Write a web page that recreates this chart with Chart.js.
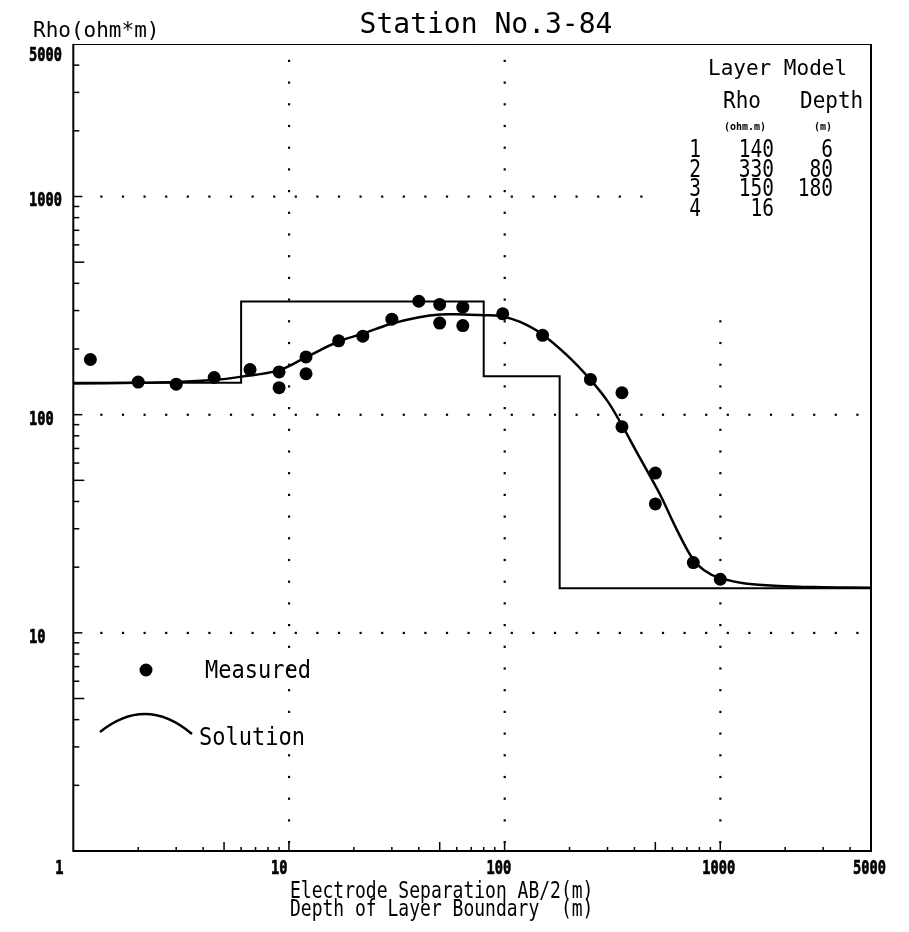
<!DOCTYPE html>
<html><head><meta charset="utf-8">
<script src="https://cdn.jsdelivr.net/npm/chart.js@4/dist/chart.umd.min.js"></script>
<style>html,body{margin:0;padding:0;background:#fff;} #wrap{position:relative;width:909px;height:932px;}</style>
</head><body><div id="wrap"><canvas id="c" width="909" height="932"></canvas></div>
<script>
const stationTitle = 'Station No.3-84';
const yAxisTitle = 'Rho(ohm*m)';
const xAxisTitleLines = ['Electrode Separation AB/2(m)', 'Depth of Layer Boundary  (m)'];
const xTickLabels = [1, 10, 100, 1000, 5000];
const yTickLabels = [10, 100, 1000, 5000];
const gridValues = [10, 100, 1000];

const measuredAB2 = [1.2, 2, 3, 4.5, 6.6, 9, 9, 12, 12, 17, 22, 30, 40, 50, 50, 64, 64, 98, 150, 250, 350, 350, 500, 500, 750, 1000];
const measuredRho = [179, 141, 138, 148, 161, 157, 133, 184, 154, 218, 229, 274, 331, 320, 263, 311, 256, 290, 231, 145, 126, 88, 54, 39, 21, 17.6];

const solutionAB2 = [1, 2, 3, 4.45, 5.94, 9, 12.2, 17.1, 22, 29.8, 39.6, 50.3, 64.5, 77, 97.6, 118, 148, 195, 248, 299, 351, 411, 474, 528, 631, 753, 853, 968, 1333, 2710, 5000];
const solutionRho = [139, 140, 141, 144, 149, 160, 185, 217, 235, 261, 279, 288, 288, 286, 282, 266, 235, 187, 146, 116, 89, 67, 52, 42.7, 29.5, 21.5, 19.2, 18.0, 16.8, 16.2, 16.1];

const layerRho = [140, 330, 150, 16];
const layerDepth = [6, 80, 180];
const legendLabels = ['Measured', 'Solution'];
const tableTitle = 'Layer Model';
const tableHeads = ['Rho', 'Depth'];
const tableUnits = ['(ohm.m)', '(m)'];

const X_MIN = 1, X_MAX = 5000, Y_MIN = 1, Y_MAX = 5000;

const measuredPts = measuredAB2.map((x, i) => ({x, y: measuredRho[i]}));
const solutionPts = solutionAB2.map((x, i) => ({x, y: solutionRho[i]}));
const modelPts = [{x: X_MIN, y: layerRho[0]}];
layerDepth.forEach((d, i) => modelPts.push({x: d, y: layerRho[i + 1]}));
modelPts.push({x: X_MAX, y: layerRho[layerRho.length - 1]});

const MONO = '"DejaVu Sans Mono", "Liberation Mono", monospace';

function drawText(ctx, str, x, y, px, align, sy, weight, sx, stroke) {
  ctx.save();
  ctx.translate(x, y);
  ctx.scale(sx || 1, sy || 1);
  ctx.font = (weight || 'normal') + ' ' + px + 'px ' + MONO;
  ctx.textAlign = align || 'left';
  ctx.textBaseline = 'alphabetic';
  ctx.fillStyle = '#000';
  ctx.fillText(str, 0, 0);
  if (stroke) { ctx.strokeStyle = '#000'; ctx.lineWidth = stroke; ctx.strokeText(str, 0, 0); }
  ctx.restore();
}

const decor = {
  id: 'decor',
  beforeDatasetsDraw(chart) {
    const ctx = chart.ctx, a = chart.chartArea;
    const xs = chart.scales.x, ys = chart.scales.y;
    ctx.save();
    ctx.fillStyle = '#000';
    // dotted grid
    const skip = (x, y) => x >= 650 && y <= 312;
    gridValues.forEach(v => {
      const py = ys.getPixelForValue(v);
      for (let x = a.left + 28; x < a.right - 3; x += 21.6) {
        if (!skip(x, py)) ctx.fillRect(x - 1, py - 1, 2.2, 2.2);
      }
      const px = xs.getPixelForValue(v);
      for (let y = a.bottom - 9; y > a.top + 5; y -= 21.7) {
        if (!skip(px, y)) ctx.fillRect(px - 1, y - 1, 2.2, 2.2);
      }
    });
    // frame
    ctx.strokeStyle = '#000';
    ctx.lineWidth = 1;
    ctx.beginPath(); ctx.moveTo(a.left, a.top + 0.5); ctx.lineTo(a.right, a.top + 0.5); ctx.stroke();
    ctx.lineWidth = 2;
    ctx.beginPath(); ctx.moveTo(a.left, a.top); ctx.lineTo(a.left, a.bottom); ctx.lineTo(a.right, a.bottom); ctx.lineTo(a.right, a.top); ctx.stroke();
    // minor / major ticks
    ctx.lineWidth = 1.5;
    [1, 10, 100, 1000].forEach(d => {
      for (let m = 1; m <= 9; m++) {
        const v = m * d;
        if (v <= X_MIN || v >= X_MAX) continue;
        const px = xs.getPixelForValue(v);
        const lx = (m === 1 || m === 5) ? 9 : 4;
        ctx.beginPath(); ctx.moveTo(px, a.bottom); ctx.lineTo(px, a.bottom - lx); ctx.stroke();
        const py = ys.getPixelForValue(v);
        const ly = m === 5 ? 11 : (m === 1 ? 9 : 6);
        ctx.beginPath(); ctx.moveTo(a.left, py); ctx.lineTo(a.left + ly, py); ctx.stroke();
      }
    });
    ctx.restore();
  },
  afterDraw(chart) {
    const ctx = chart.ctx, a = chart.chartArea;
    const xs = chart.scales.x, ys = chart.scales.y;
    const ds = chart.data.datasets;
    // tick labels (plotter style: left aligned, condensed bold)
    xs.ticks.forEach(t => {
      const px = xs.getPixelForValue(t.value);
      drawText(ctx, String(t.value), px - 18, a.bottom + 23, 19, 'left', 1, 'bold', 0.72, 0.7);
    });
    ys.ticks.forEach(t => {
      const py = Math.max(ys.getPixelForValue(t.value) + 3, a.top + 10);
      drawText(ctx, String(t.value), 29, py + 7, 19, 'left', 1, 'bold', 0.72, 0.7);
    });
    // titles
    drawText(ctx, stationTitle, 486, 33, 28, 'center');
    drawText(ctx, yAxisTitle, 33, 37, 21, 'left');
    drawText(ctx, xAxisTitleLines[0], 290, 898, 18, 'left', 1.25);
    drawText(ctx, xAxisTitleLines[1], 290, 916, 18, 'left', 1.25);
    // layer model table
    drawText(ctx, tableTitle, 708, 75, 21, 'left', 1.05);
    drawText(ctx, tableHeads[0], 723, 108, 21, 'left', 1.1);
    drawText(ctx, tableHeads[1], 800, 108, 21, 'left', 1.1);
    drawText(ctx, tableUnits[0], 745, 130, 10, 'center', 1, 'bold');
    drawText(ctx, tableUnits[1], 823, 130, 10, 'center', 1, 'bold');
    layerRho.forEach((r, i) => {
      const base = 157 + i * 19.5;
      drawText(ctx, String(i + 1), 695, base, 19.5, 'center', 1.25);
      drawText(ctx, String(r), 774, base, 19.5, 'right', 1.25);
      if (i < layerDepth.length) drawText(ctx, String(layerDepth[i]), 833, base, 19.5, 'right', 1.25);
    });
    // legend
    ctx.save();
    ctx.fillStyle = '#000';
    ctx.beginPath(); ctx.arc(146, 670, 6.5, 0, Math.PI * 2); ctx.fill();
    ctx.strokeStyle = '#000'; ctx.lineWidth = 2.5;
    ctx.beginPath(); ctx.moveTo(100, 732); ctx.quadraticCurveTo(146, 695, 192, 734); ctx.stroke();
    ctx.restore();
    drawText(ctx, ds[0].label, 205, 678, 22, 'left', 1.12);
    drawText(ctx, ds[1].label, 199, 745, 22, 'left', 1.12);
  }
};

new Chart(document.getElementById('c'), {
  type: 'line',
  data: {
    datasets: [
      {label: legendLabels[0], data: measuredPts, showLine: false, pointRadius: 6.5, pointHoverRadius: 6.5,
       pointBackgroundColor: '#000', pointBorderColor: '#000', pointBorderWidth: 0, borderColor: '#000', backgroundColor: '#000'},
      {label: legendLabels[1], data: solutionPts, showLine: true, pointRadius: 0, borderColor: '#000', borderWidth: 2.5,
       tension: 0.4, fill: false},
      {label: 'Model', data: modelPts, showLine: true, pointRadius: 0, borderColor: '#000', borderWidth: 2, stepped: 'before', fill: false}
    ]
  },
  options: {
    responsive: false,
    devicePixelRatio: 1,
    animation: false,
    layout: {padding: {left: 30, right: 38, top: 44, bottom: 0}},
    plugins: {legend: {display: false}, tooltip: {enabled: false}, title: {display: false}},
    scales: {
      x: {
        type: 'logarithmic', position: 'bottom', min: X_MIN, max: X_MAX,
        afterBuildTicks: s => { s.ticks = xTickLabels.map(v => ({value: v})); },
        afterFit: s => { s.height = 81; },
        grid: {display: false, drawTicks: false}, border: {display: false},
        ticks: {display: false, autoSkip: false}
      },
      y: {
        type: 'logarithmic', position: 'left', min: Y_MIN, max: Y_MAX,
        afterBuildTicks: s => { s.ticks = yTickLabels.map(v => ({value: v})); },
        afterFit: s => { s.width = 43.3; },
        grid: {display: false, drawTicks: false}, border: {display: false},
        ticks: {display: false, autoSkip: false}
      }
    }
  },
  plugins: [decor]
});
</script></body></html>
